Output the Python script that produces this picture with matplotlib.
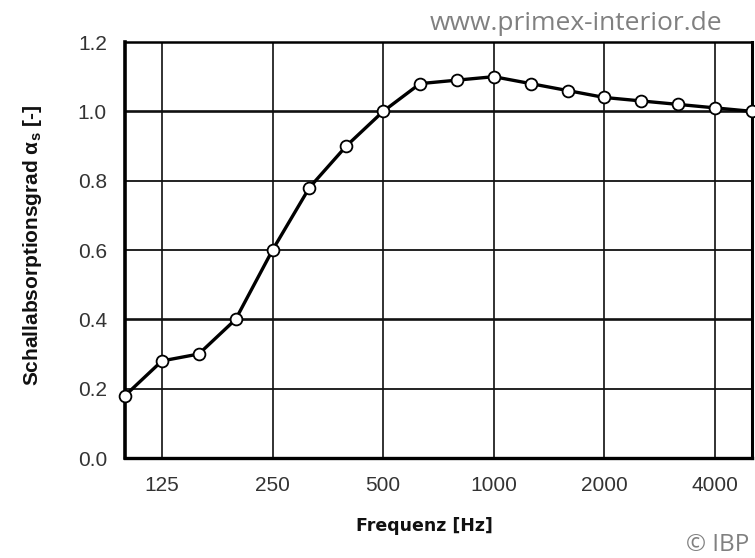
import matplotlib
matplotlib.use("Agg")
import matplotlib.pyplot as plt
import numpy as np

freq_labels = ["100", "125", "160", "200", "250", "315", "400", "500", "630", "800",
               "1000", "1250", "1600", "2000", "2500", "3150", "4000", "5000"]
alpha_s = [0.18, 0.28, 0.30, 0.40, 0.60, 0.78, 0.90, 1.00, 1.08, 1.09,
           1.10, 1.08, 1.06, 1.04, 1.03, 1.02, 1.01, 1.00]
xtick_labels = ["125", "250", "500", "1000", "2000", "4000"]
ytick_values = [0.0, 0.2, 0.4, 0.6, 0.8, 1.0, 1.2]

plt.rcParams['font.family'] = ['Liberation Sans', 'DejaVu Sans']

fig = plt.figure(figsize=(7.55, 5.58), dpi=100)
ax = fig.add_axes([0.1656, 0.1792, 0.8304, 0.7455])

x = np.arange(len(freq_labels))
ax.set_xlim(x[0], x[-1])
ax.set_ylim(0, 1.2)

tick_pos = [freq_labels.index(l) for l in xtick_labels]
ax.set_xticks(tick_pos)
ax.set_xticklabels(xtick_labels)
ax.set_yticks(ytick_values)
ax.set_yticklabels([f"{v:.1f}" for v in ytick_values])
ax.tick_params(axis='both', length=0, labelsize=15, colors='#333333')
ax.tick_params(axis='x', pad=13)
ax.tick_params(axis='y', pad=13)

for p in tick_pos:
    ax.axvline(p, color='#222222', lw=1.3, zorder=1)
for v in ytick_values[1:-1]:
    lw = 1.9 if v in (0.4, 1.0) else 1.3
    ax.axhline(v, color='#111111', lw=lw, zorder=1)

for side, lw in (('left', 2.6), ('bottom', 2.4), ('top', 1.8), ('right', 2.2)):
    ax.spines[side].set_linewidth(lw)
    ax.spines[side].set_color('black')

ax.plot(x, alpha_s, color='black', lw=2.4, marker='o', markersize=8.5,
        markerfacecolor='white', markeredgecolor='black', markeredgewidth=1.3,
        zorder=5, clip_on=False)

ax.set_xlabel("Frequenz [Hz]", fontsize=12.5, fontweight='bold',
              family=['DejaVu Sans'], color='#111111')
ax.xaxis.set_label_coords(0.478, -0.163)
ax.xaxis.label.set_va('center')
ax.set_ylabel(r"Schallabsorptionsgrad $\mathregular{\alpha_s}$ [-]", fontsize=15,
              fontweight='bold', color='#111111')
ax.yaxis.set_label_coords(-0.148, 0.512)
ax.yaxis.label.set_va('center')

fig.text(722 / 755, 1 - 30 / 558, "www.primex-interior.de", fontsize=19, color='#808080',
         family=['Open Sans', 'DejaVu Sans'], ha='right', va='baseline')
fig.text(749 / 755, 1 - 551 / 558, "© IBP", fontsize=17.5, color='#808080',
         family=['Open Sans', 'DejaVu Sans'], ha='right', va='baseline')

fig.savefig("out.png", dpi=100)
